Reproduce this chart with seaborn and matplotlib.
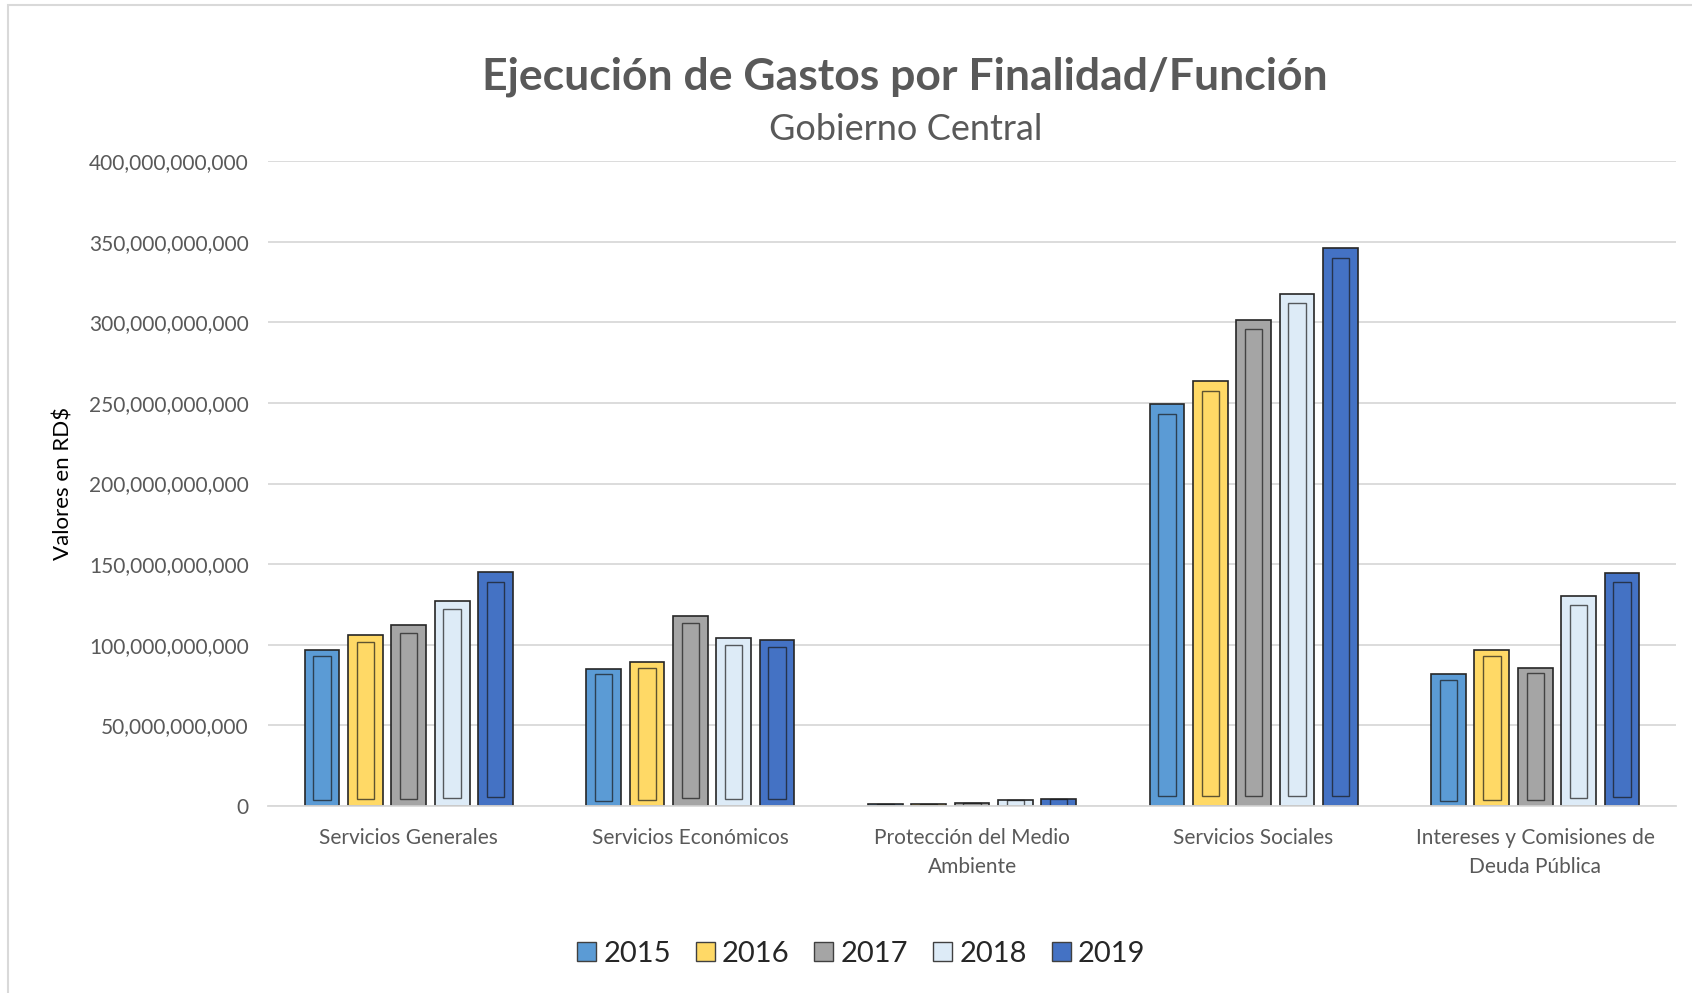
import pandas as pd
import matplotlib.pyplot as plt
import seaborn as sns
from matplotlib.patches import Rectangle
from matplotlib.ticker import FuncFormatter

# Valores (miles de millones de RD$)
categorias = ['Servicios Generales', 'Servicios Económicos', 'Protección del Medio\nAmbiente',
              'Servicios Sociales', 'Intereses y Comisiones de\nDeuda Pública']
anios = ['2015', '2016', '2017', '2018', '2019']
v2015 = [97, 85, 1.3, 249, 81.6]
v2016 = [106, 89, 1.3, 263.5, 97]
v2017 = [112, 118, 2.0, 301.7, 85.6]
v2018 = [127, 104, 4.0, 317.7, 130]
v2019 = [145, 103, 4.5, 345.8, 144.5]
colores = ['#5B9BD5', '#FFD966', '#A5A5A5', '#DDEBF7', '#4472C4']

rows = []
for anio, vals in zip(anios, [v2015, v2016, v2017, v2018, v2019]):
    for cat, v in zip(categorias, vals):
        rows.append({'Finalidad': cat, 'Año': anio, 'Valor': v * 1e9})
df = pd.DataFrame(rows)

sns.set_theme(style='white')
plt.rcParams['font.family'] = ['Lato', 'DejaVu Sans']

fig = plt.figure(figsize=(16.92, 9.93), dpi=100)
ax = fig.add_axes([268 / 1692, 1 - 806 / 993, (1676 - 268) / 1692, (806 - 161) / 993])

sns.barplot(data=df, x='Finalidad', y='Valor', hue='Año', palette=colores, saturation=1,
            width=0.77, gap=0.2, edgecolor='#262626', linewidth=1.2, ax=ax, legend=False)

# relieve simple dentro de cada barra
for p in ax.patches:
    x, y = p.get_x(), p.get_y()
    w, h = p.get_width(), p.get_height()
    if h <= 0:
        continue
    m = min(h * 0.04, 6e9)
    ax.add_patch(Rectangle((x + w * 0.25, y + m), w * 0.5, max(h - 2 * m, 0),
                           facecolor='none', edgecolor='#1a1a1a', linewidth=1.0, alpha=0.7))

ax.set_ylim(0, 400e9)
ax.set_xlim(-0.5, 4.5)
ax.set_yticks(range(0, 400_000_000_001, 50_000_000_000))
ax.yaxis.set_major_formatter(FuncFormatter(lambda v, _: f'{int(v):,}'))
ax.grid(axis='y', color='#D9D9D9', linewidth=1.3)
ax.set_axisbelow(True)
for s in ['top', 'right', 'left']:
    ax.spines[s].set_visible(False)
ax.spines['bottom'].set_color('#D9D9D9')
ax.spines['bottom'].set_linewidth(1.3)
ax.tick_params(axis='y', length=0, labelsize=15, labelcolor='#595959', pad=14)
ax.tick_params(axis='x', length=0, labelsize=15, labelcolor='#595959', pad=16)
for t in ax.get_xticklabels():
    t.set_linespacing(1.55)
ax.set_xlabel('')
ax.set_ylabel('Valores en RD$', fontsize=16, color='black')
ax.yaxis.set_label_coords(-0.138, 0.5)

fig.text(0.535, 1 - 77 / 993, 'Ejecución de Gastos por Finalidad/Función', ha='center', va='center',
         fontsize=32, fontweight='bold', color='#595959')
fig.text(0.535, 1 - 130 / 993, 'Gobierno Central', ha='center', va='center',
         fontsize=26, color='#595959')

handles = [Rectangle((0, 0), 1, 1, facecolor=c, edgecolor='#404040', linewidth=1) for c in colores]
fig.legend(handles, anios, loc='center', bbox_to_anchor=(0.509, 1 - 954 / 993), ncol=5, frameon=False,
           fontsize=21, handlelength=0.65, handleheight=0.65, handletextpad=0.25, columnspacing=0.85)

# borde del área de gráfico
fig.add_artist(Rectangle((8 / 1692, -0.01), 1, 1 - 5 / 993 + 0.01, transform=fig.transFigure,
                         facecolor='none', edgecolor='#D9D9D9', linewidth=1.5))

fig.savefig('out.png', dpi=100)
